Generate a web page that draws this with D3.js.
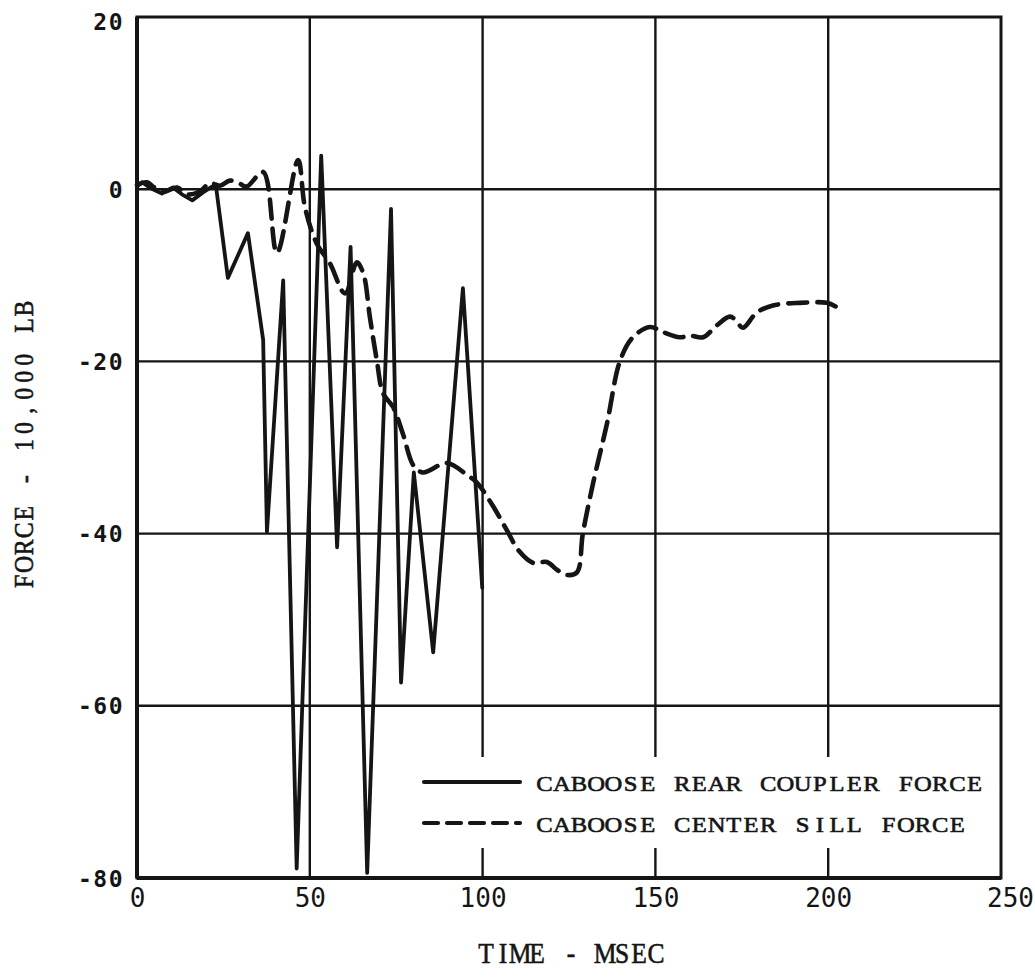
<!DOCTYPE html>
<html>
<head>
<meta charset="utf-8">
<script src="https://cdn.jsdelivr.net/npm/d3@7"></script>
<style>
  html, body { margin: 0; padding: 0; background: #fff; }
  svg { display: block; }
</style>
</head>
<body>
<svg id="chart" width="1035" height="977"></svg>
<script>
// ---- DATA ----
const xTicks = [0, 50, 100, 150, 200, 250];
const xTickLabels = ["0", "50", "100", "150", "200", "250"];
const yTicks = [20, 0, -20, -40, -60, -80];
const yTickLabels = ["20", "0", "-20", "-40", "-60", "-80"];

// Caboose rear coupler force (solid)
const couplerTime  = [0, 1.5, 4, 7.2, 10.4, 13, 16, 19, 21.7, 22.9, 26.3, 32.1, 36.5, 37.6, 42.3, 46.2, 53.3, 57.9, 61.8, 66.6, 73.5, 76.4, 80.1, 85.7, 94.3, 99.9];
const couplerForce = [0.3, 0.8, 0.1, -0.5, 0.2, -0.6, -1.3, -0.4, 0.3, 0.2, -10.3, -5.1, -17.5, -39.8, -10.6, -78.9, 3.9, -41.6, -6.7, -79.4, -2.3, -57.3, -32.9, -53.8, -11.5, -46.3];

// Caboose center sill force (dashed)
const sillTime  = [0, 2.9, 5, 7.7, 11.6, 14.5, 18, 21.1, 24, 26.9, 29.5, 31.7, 36.5, 40.5, 46.6, 48.6, 52, 55.8, 60.2, 63.6, 65.5, 67.4, 69.4, 71.2, 74.1, 77, 80, 82.8, 89.7, 95.5, 98.4, 103, 107, 110.5, 114.6, 118.6, 121.5, 124.4, 127.3, 129, 132, 136, 139.8, 143.5, 148.4, 152.2, 157, 160, 163.8, 167.8, 171.6, 173.6, 175.3, 179.4, 184, 191.8, 199.6, 202.5];
const sillForce = [0.5, 0.8, 0.2, -0.3, 0.2, -0.6, -0.3, 0.7, 0.4, 1.0, 0.7, 0.3, 2.0, -7.4, 3.4, -2.1, -6.3, -8.6, -12.1, -8.5, -9.8, -14.9, -19.9, -23.7, -25.3, -28.5, -32.1, -32.9, -31.8, -33.2, -34.1, -36.8, -39.6, -42, -43.4, -43.3, -44.2, -44.8, -44.5, -40, -34.1, -27.2, -19.9, -17.2, -16.0, -16.6, -17.2, -17, -17.2, -15.8, -14.8, -15.4, -16.1, -14.3, -13.5, -13.2, -13.2, -13.7];

const legendLabels = ["CABOOSE REAR COUPLER FORCE", "CABOOSE CENTER SILL FORCE"];
const xTitle = "TIME - MSEC";
const yTitle = "FORCE - 10,000 LB";

// ---- CHART ----
const svg = d3.select("#chart");
const x = d3.scaleLinear().domain([0, 250]).range([137, 1001]);
const y = d3.scaleLinear().domain([-80, 20]).range([878, 17]);
const ink = "#151515";
const serif = "Liberation Serif, DejaVu Serif, serif";

// typewriter-like text: each character centred in a fixed-width cell
function monoText(parent, str, x0, baseY, cell, fontSize, sx, transform) {
  const grp = parent.append("g").attr("transform", (transform || "") + ` scale(${sx},1)`);
  const xs = Array.from(str).map((c, i) => ((x0 + i * cell + cell / 2) / sx).toFixed(2));
  grp.append("text").attr("x", xs.join(" ")).attr("y", baseY)
    .attr("text-anchor", "middle")
    .attr("font-family", serif).attr("font-size", fontSize).attr("fill", ink)
    .attr("stroke", ink).attr("stroke-width", 0.6)
    .text(str);
  return grp;
}

const g = svg.append("g");

// gridlines
g.selectAll("line.vg").data(xTicks.filter(d => d > 0 && d < 250)).enter()
  .append("line").attr("class", "vg")
  .attr("x1", d => x(d)).attr("x2", d => x(d))
  .attr("y1", y(20)).attr("y2", y(-80))
  .attr("stroke", ink).attr("stroke-width", 2.4);
g.selectAll("line.hg").data(yTicks.filter(d => d > -80 && d < 20)).enter()
  .append("line").attr("class", "hg")
  .attr("x1", x(0)).attr("x2", x(250))
  .attr("y1", d => y(d)).attr("y2", d => y(d))
  .attr("stroke", ink).attr("stroke-width", 2.4);

// lines
const coupler = couplerTime.map((t, i) => [t, couplerForce[i]]);
const sill = sillTime.map((t, i) => [t, sillForce[i]]);

g.append("path").datum(coupler)
  .attr("d", d3.line().x(d => x(d[0])).y(d => y(d[1])).curve(d3.curveLinear))
  .attr("fill", "none").attr("stroke", ink).attr("stroke-width", 3.8)
  .attr("stroke-linejoin", "round").attr("stroke-linecap", "round");

g.append("path").datum(sill)
  .attr("d", d3.line().x(d => x(d[0])).y(d => y(d[1])).curve(d3.curveCatmullRom.alpha(0.5)))
  .attr("fill", "none").attr("stroke", ink).attr("stroke-width", 4.6)
  .attr("stroke-dasharray", "19,10").attr("stroke-linecap", "round");

// legend box (covers gridlines)
const lg = svg.append("g");
lg.append("rect").attr("x", 409).attr("y", 757).attr("width", 585).attr("height", 91).attr("fill", "#fff");
[0, 1].forEach(i => {
  const yy = i === 0 ? 782 : 823;
  lg.append("line").attr("x1", 424).attr("x2", 520).attr("y1", yy).attr("y2", yy)
    .attr("stroke", ink).attr("stroke-width", 4.2).attr("stroke-linecap", "round")
    .attr("stroke-dasharray", i === 0 ? null : "14,9");
  monoText(lg, legendLabels[i], 536, yy + 9, 17.2, 22, 1.12);
});

// frame
svg.append("rect").attr("x", x(0)).attr("y", y(20))
  .attr("width", x(250) - x(0)).attr("height", y(-80) - y(20))
  .attr("fill", "none").attr("stroke", ink).attr("stroke-width", 3);
svg.append("line").attr("x1", x(0)).attr("x2", x(0)).attr("y1", y(20)).attr("y2", y(-80))
  .attr("stroke", ink).attr("stroke-width", 4);
svg.append("line").attr("x1", x(0)).attr("x2", x(250)).attr("y1", y(-80)).attr("y2", y(-80))
  .attr("stroke", ink).attr("stroke-width", 4);

// axes via d3 axis generators (tick labels only)
const xAxis = d3.axisBottom(x).tickValues(xTicks).tickFormat((d, i) => xTickLabels[i]).tickSize(0).tickPadding(0);
const xa = svg.append("g").attr("transform", `translate(0, 907)`).call(xAxis);
xa.select(".domain").remove();
xa.selectAll("text").attr("dy", 0).attr("y", 0)
  .attr("font-family", "DejaVu Sans Mono, monospace").attr("font-size", 26).attr("fill", ink)
  .attr("dx", (d) => d === 250 ? 9 : 0);

const yAxis = d3.axisLeft(y).tickValues(yTicks).tickFormat((d, i) => yTickLabels[i]).tickSize(0).tickPadding(0);
const ya = svg.append("g").attr("transform", `translate(124, 0)`).call(yAxis);
ya.select(".domain").remove();
ya.selectAll("text").attr("x", 0).attr("dy", "0.35em")
  .attr("font-family", "DejaVu Sans Mono, monospace").attr("font-size", 23).attr("font-weight", "bold").attr("fill", ink)
  .attr("letter-spacing", 1.5)
  .attr("transform", d => d === 20 ? "translate(0,4)" : null);

// titles
monoText(svg, xTitle, 571 - 11 * 17 / 2, 963, 17, 30, 0.85);
monoText(svg, yTitle, -yTitle.length * 17.06 / 2, 0, 17.06, 28, 0.85, "translate(33,445) rotate(-90)");
</script>
</body>
</html>
